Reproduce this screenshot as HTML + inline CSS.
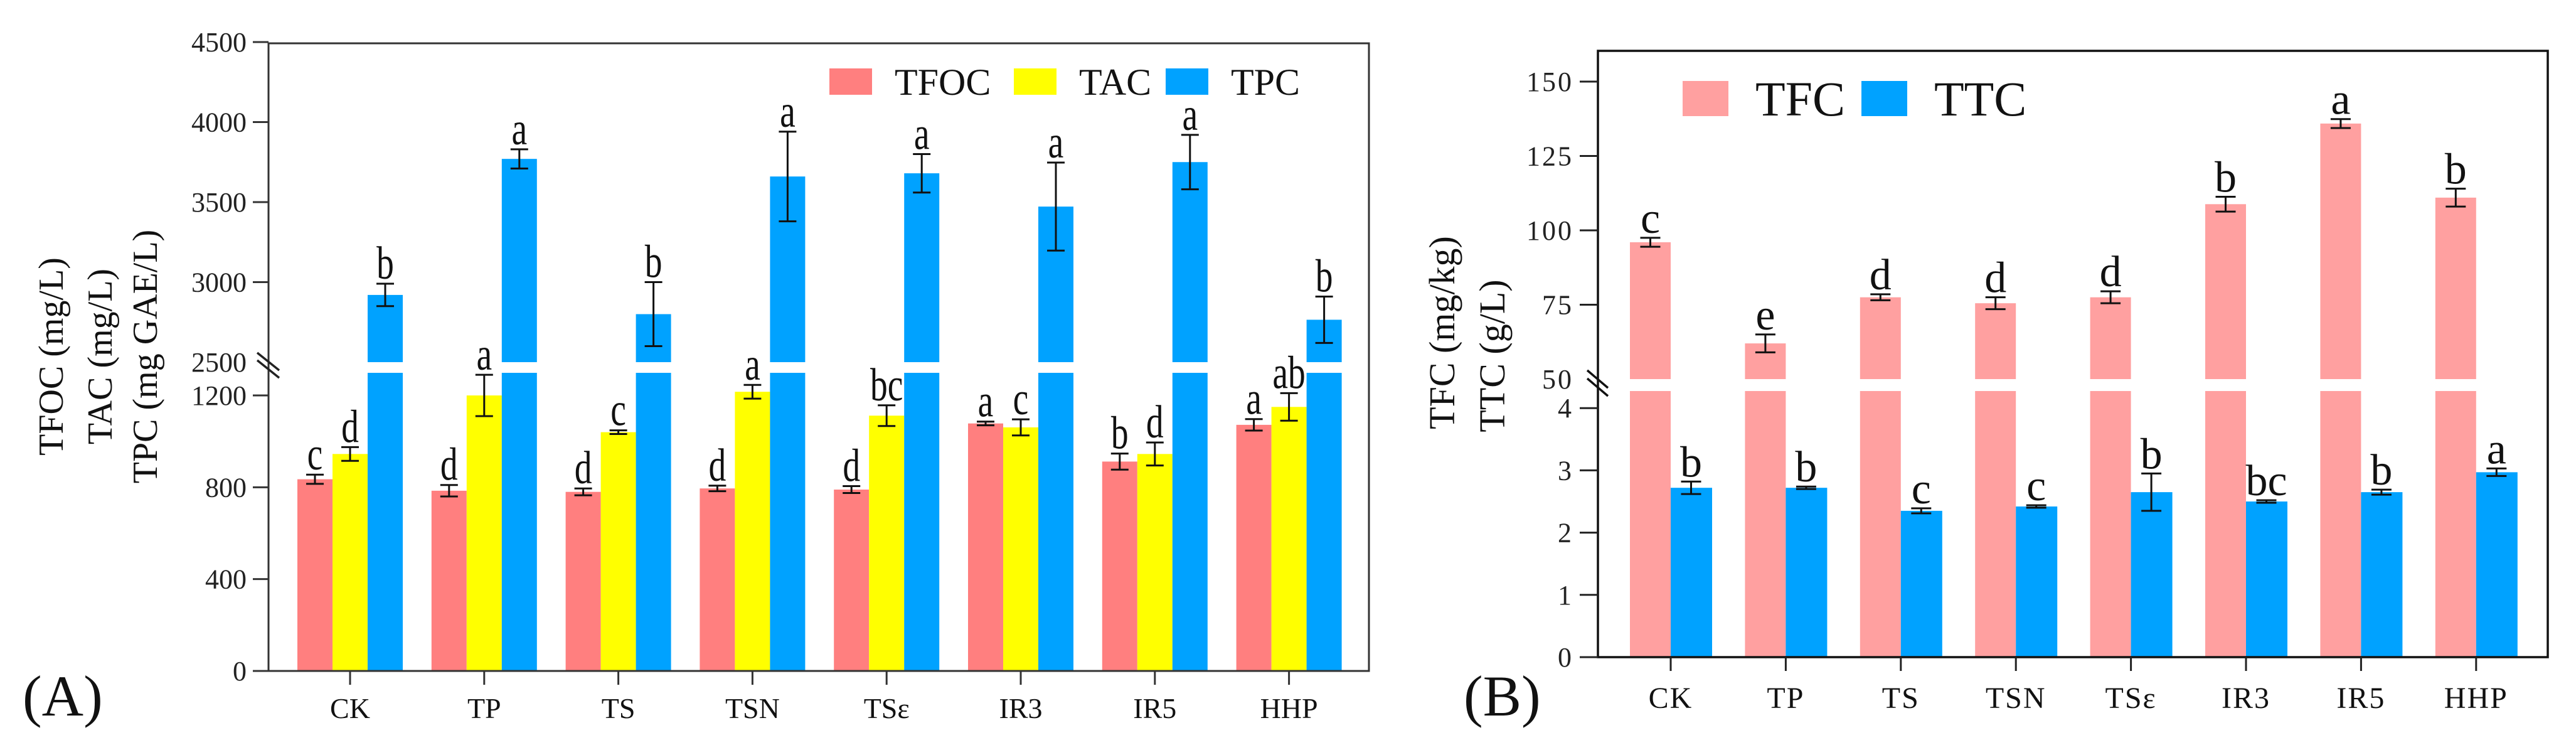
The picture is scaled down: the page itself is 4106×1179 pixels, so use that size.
<!DOCTYPE html>
<html><head><meta charset="utf-8"><style>
html,body{margin:0;padding:0;background:#fff;}
svg{display:block;font-family:"Liberation Serif",serif;}
</style></head><body>
<svg id="fig" width="4106" height="1179" viewBox="0 0 4106 1179" xmlns="http://www.w3.org/2000/svg"></svg>
<script>
// ---- Chart A data ----
const catsA = ["CK","TP","TS","TSN","TS\u03b5","IR3","IR5","HHP"];
const tfoc = [835,785,780,795,790,1078,912,1072];
const tfocErr = [20,25,15,12,15,8,35,25];
const tfocLet = ["c","d","d","d","d","a","b","a"];
const tac = [945,1200,1040,1216,1112,1061,945,1150];
const tacErr = [30,90,8,30,45,35,50,60];
const tacLet = ["d","a","c","a","bc","c","d","ab"];
const tpc = [2920,3770,2800,3660,3680,3472,3750,2765];
const tpcErr = [70,60,200,280,120,275,170,145];
const tpcLet = ["b","a","b","a","a","a","a","b"];
const ticksAlow = [0,400,800,1200];
const ticksAhigh = [2500,3000,3500,4000,4500];
// ---- Chart B data ----
const catsB = ["CK","TP","TS","TSN","TS\u03b5","IR3","IR5","HHP"];
const tfc = [96,62,77.5,75.5,77.5,108.8,135.9,111];
const tfcErr = [1.5,3,1,2,2,2.5,1.5,3];
const tfcLet = ["c","e","d","d","d","b","a","b"];
const ttc = [2.72,2.72,2.35,2.42,2.65,2.5,2.65,2.97];
const ttcErr = [0.1,0.02,0.04,0.02,0.3,0.02,0.04,0.06];
const ttcLet = ["b","b","c","c","b","bc","b","a"];
const ticksBlow = [0,1,2,3,4];
const ticksBhigh = [50,75,100,125,150];

const svg = document.getElementById('fig');
const NS = "http://www.w3.org/2000/svg";
function mk(tag, attrs, parent){const e=document.createElementNS(NS,tag);for(const k in attrs)e.setAttribute(k,attrs[k]);(parent||svg).appendChild(e);return e;}
function txt(s, attrs, parent){const e=mk('text',attrs,parent);e.textContent=s;return e;}

// Chart A scales
const A = {ax:428, right:2182, top:69, bottom:1069, x0:558, step:213.8};
function yA(v){ if(v<=1300) return A.bottom - v*0.3658; return 577 - (v-2500)*0.255; }
function xA(i){ return A.x0 + i*A.step; }
// Chart B scales
const B = {ax:2547, right:4061, top:81, bottom:1047, x0:2663, step:183.4};
function yB(v){ if(v<=4.5) return B.bottom - v*99.2; return 604 - (v-50)*4.74; }
function xB(i){ return B.x0 + i*B.step; }

function bar(g, x, w, v, yf, gapTop, gapBot, color, name){
  const y0 = yf(0), yv = yf(v);
  if (yv < gapTop) {
    let r1 = mk('rect',{x:x,y:gapBot,width:w,height:y0-gapBot,fill:color},g);
    
    
    let r2 = mk('rect',{x:x,y:yv,width:w,height:gapTop-yv,fill:color},g);
    
    
  } else {
    let r = mk('rect',{x:x,y:yv,width:w,height:y0-yv,fill:color},g);
    
    
  }
}
function errbar(g, cx, v, e, yf, cap){
  const yt=yf(v+e), yb=yf(v-e);
  const p = mk('path',{d:`M${cx-cap},${yt}H${cx+cap}M${cx},${yt}V${yb}M${cx-cap},${yb}H${cx+cap}`,stroke:'#111','stroke-width':3,fill:'none'},g);
  
  
  return yt;
}
function letter(g, cx, y, s, fs, sx){
  const t = txt(s,{transform:`translate(${cx},${y}) scale(${sx},1)`,'text-anchor':'middle','font-size':fs,fill:'#111'},g);
  
  
}

// ===== Chart A =====
const gA = mk('g',{});


const seriesA = [[tfoc,tfocErr,tfocLet,'#FF7F7F','tfoc'],[tac,tacErr,tacLet,'#FFFF00','tac'],[tpc,tpcErr,tpcLet,'#00A2FF','tpc']];
const bwA = 56;
catsA.forEach((c,i)=>{
  seriesA.forEach((s,k)=>{
    const x = xA(i) - 84 + k*bwA;
    bar(gA, x, bwA, s[0][i], yA, 577, 594, s[3], 'bar-'+s[4]+'-'+c);
  });
  seriesA.forEach((s,k)=>{
    const cx = xA(i) - 84 + k*bwA + bwA/2;
    const yt = errbar(gA, cx, s[0][i], s[1][i], yA, 14);
    letter(gA, cx, yt-8, s[2][i], 74, 0.75);
  });
});
// frame A
mk('path',{d:`M${A.ax},${A.top}H${A.right}V${A.bottom}H${A.ax}Z`,fill:'none',stroke:'#333','stroke-width':3},gA);
// ticks A
ticksAlow.concat(ticksAhigh).forEach(v=>{
  const y=yA(v);
  if(v!==2500) mk('line',{x1:403,x2:A.ax,y1:y,y2:y,stroke:'#333','stroke-width':3},gA);
  const t=txt(String(v),{x:393,y:y+15,'text-anchor':'end','font-size':44,fill:'#222'},gA);
  
  
});
mk('path',{d:'M410,562L445,590M410,574L445,602',stroke:'#222','stroke-width':3.5},gA);
catsA.forEach((c,i)=>{
  mk('line',{x1:xA(i),x2:xA(i),y1:A.bottom,y2:A.bottom+22,stroke:'#333','stroke-width':3},gA);
  const t=txt(c,{x:xA(i),y:1144,'text-anchor':'middle','font-size':46,fill:'#111'},gA);
  
  
});
// y title A
[["TFOC (mg/L)",100],["TAC (mg/L)",178],["TPC (mg GAE/L)",250]].forEach(([s,x])=>{
  const t=txt(s,{transform:`translate(${x},568) rotate(-90)`,'text-anchor':'middle','font-size':56,fill:'#111'},gA);
  
  
});
// legend A
[["TFOC",'#FF7F7F',1322],["TAC",'#FFFF00',1616],["TPC",'#00A2FF',1858]].forEach(([s,c,x])=>{
  const r=mk('rect',{x:x,y:109,width:68,height:42,fill:c},gA);
  
  
  const t=txt(s,{x:x+104,y:151,'font-size':60,fill:'#111'},gA);
  
  
});
const la=txt("(A)",{x:36,y:1140,'font-size':92,fill:'#111'},gA);



// ===== Chart B =====
const gB = mk('g',{});


const bwB = 65;
catsB.forEach((c,i)=>{
  bar(gB, xB(i)-bwB, bwB, tfc[i], yB, 604, 623, '#FFA0A0', 'bar-tfc-'+c);
  bar(gB, xB(i), bwB+1, ttc[i], yB, 604, 623, '#00A2FF', 'bar-ttc-'+c);
  let yt = errbar(gB, xB(i)-bwB/2, tfc[i], tfcErr[i], yB, 16);
  letter(gB, xB(i)-bwB/2, yt-8, tfcLet[i], 70, 1);
  yt = errbar(gB, xB(i)+bwB/2, ttc[i], ttcErr[i], yB, 16);
  letter(gB, xB(i)+bwB/2, yt-8, ttcLet[i], 70, 1);
});
mk('path',{d:`M${B.ax},${B.top}H${B.right}V${B.bottom}H${B.ax}Z`,fill:'none',stroke:'#111','stroke-width':3.5},gB);
ticksBlow.concat(ticksBhigh).forEach(v=>{
  const y=yB(v);
  if(v!==50) mk('line',{x1:2518,x2:B.ax,y1:y,y2:y,stroke:'#222','stroke-width':3},gB);
  const t=txt(String(v),{x:2508,y:y+15,'text-anchor':'end','font-size':44,'letter-spacing':3,fill:'#222'},gB);
  
  
});
mk('path',{d:'M2530,590L2563,618M2530,603L2563,631',stroke:'#111','stroke-width':3.5},gB);
catsB.forEach((c,i)=>{
  mk('line',{x1:xB(i),x2:xB(i),y1:B.bottom,y2:B.bottom+22,stroke:'#222','stroke-width':3},gB);
  const t=txt(c,{x:xB(i),y:1128,'text-anchor':'middle','font-size':48,'letter-spacing':2,fill:'#111'},gB);
  
  
});
[["TFC (mg/kg)",2318,530],["TTC (g/L)",2398,567]].forEach(([s,x,y])=>{
  const t=txt(s,{transform:`translate(${x},${y}) rotate(-90)`,'text-anchor':'middle','font-size':58,fill:'#111'},gB);
  
  
});
[["TFC",'#FFA0A0',2682],["TTC",'#00A2FF',2967]].forEach(([s,c,x])=>{
  const r=mk('rect',{x:x,y:129,width:73,height:56,fill:c},gB);
  
  
  const t=txt(s,{x:x+116,y:184,'font-size':78,fill:'#111'},gB);
  
  
});
const lb=txt("(B)",{x:2333,y:1140,'font-size':92,fill:'#111'},gB);


</script>
</body></html>
